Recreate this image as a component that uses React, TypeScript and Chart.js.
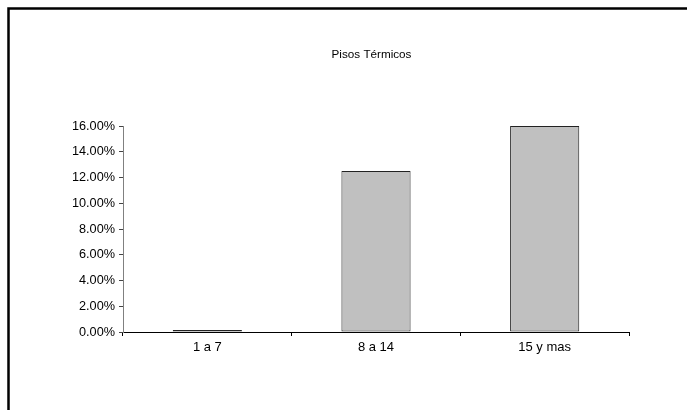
import React, { useEffect, useRef } from "react";
import { Chart, registerables } from "chart.js";

Chart.register(...registerables);

const categories = ["1 a 7", "8 a 14", "15 y mas"];
const values = [0, 12.5, 16];
const yTicks = [0, 2, 4, 6, 8, 10, 12, 14, 16];
const title = "Pisos Térmicos";

const FONT = "'Liberation Sans', Arial, sans-serif";

export default function App() {
  const ref = useRef<HTMLCanvasElement | null>(null);
  useEffect(() => {
    if (!ref.current) return;
    const framePlugin = {
      id: "frame",
      beforeDraw(chart: any) {
        const ctx = chart.ctx;
        ctx.save();
        ctx.fillStyle = "#fff";
        ctx.fillRect(0, 0, chart.width, chart.height);
        ctx.strokeStyle = "#000";
        ctx.lineWidth = 2.5;
        ctx.beginPath();
        ctx.moveTo(8.5, chart.height + 5);
        ctx.lineTo(8.5, 8.5);
        ctx.lineTo(chart.width + 5, 8.5);
        ctx.stroke();
        ctx.fillStyle = "#000";
        ctx.font = `11.7px ${FONT}`;
        ctx.textAlign = "center";
        ctx.textBaseline = "middle";
        ctx.fillText(title, 371.5, 55);
        ctx.restore();
      },
    };
    const chart = new Chart(ref.current, {
      type: "bar",
      data: {
        labels: categories,
        datasets: [
          {
            data: values,
            backgroundColor: "#C0C0C0",
            borderColor: "#222",
            borderWidth: 1,
            borderSkipped: false,
            barPercentage: 0.41,
            categoryPercentage: 1,
            minBarLength: 2,
          },
        ],
      },
      options: {
        responsive: false,
        animation: false,
        devicePixelRatio: 1,
        layout: { padding: { top: 126, right: 58, left: 0, bottom: 0 } },
        plugins: {
          legend: { display: false },
          tooltip: { enabled: false },
          title: { display: false },
        },
        scales: {
          x: {
            afterFit: (s: any) => {
              s.height = 78;
            },
            grid: {
              drawOnChartArea: false,
              drawTicks: true,
              tickLength: 4,
              color: "#000",
              offset: true,
            },
            border: { display: true, color: "#000", width: 1 },
            ticks: {
              color: "#000",
              padding: 4,
              font: { family: FONT, size: 13 },
            },
          },
          y: {
            min: 0,
            max: 16,
            afterFit: (s: any) => {
              s.width = 123;
            },
            afterBuildTicks: (s: any) => {
              s.ticks = yTicks.map((v) => ({ value: v }));
            },
            grid: {
              drawOnChartArea: false,
              drawTicks: true,
              tickLength: 4,
              color: "#444",
            },
            border: { display: true, color: "#808080", width: 1 },
            ticks: {
              color: "#000",
              padding: 4,
              font: { family: FONT, size: 12.7 },
              callback: (v: any) => Number(v).toFixed(2) + "%",
            },
          },
        },
      },
      plugins: [framePlugin],
    });
    return () => chart.destroy();
  }, []);
  return (
    <div style={{ position: "absolute", left: 0, top: 0, width: 687, height: 410 }}>
      <canvas ref={ref} width={687} height={410} style={{ display: "block" }} />
    </div>
  );
}
